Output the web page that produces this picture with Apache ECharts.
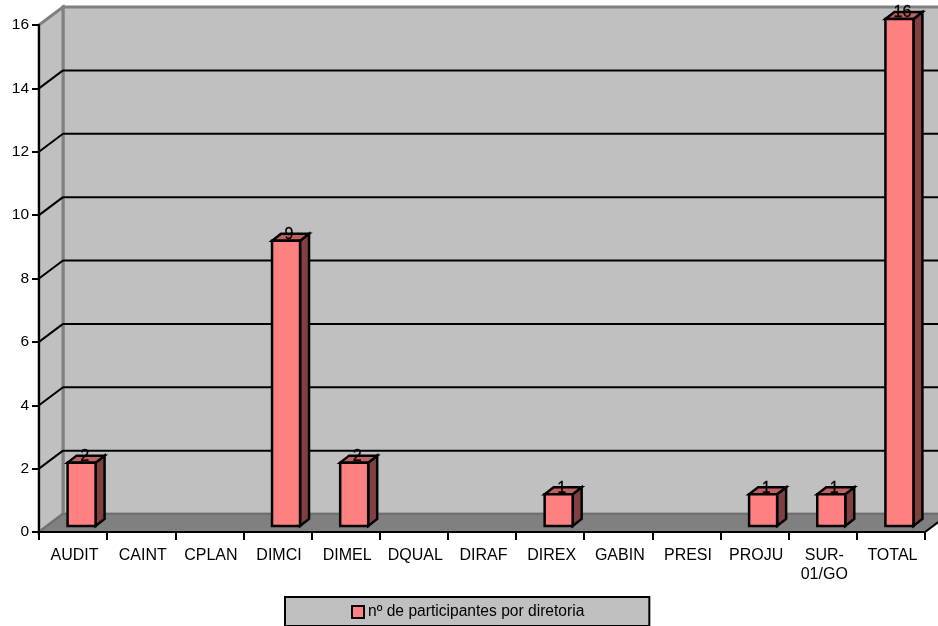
<!DOCTYPE html>
<html>
<head>
<meta charset="utf-8">
<style>html,body{margin:0;padding:0;background:#fff}#chart{width:938px;height:626px}</style>
<script src="https://cdn.jsdelivr.net/npm/echarts@6/dist/echarts.min.js"></script>
</head>
<body>
<div id="chart"></div>
<script>
// Participants per directorate
const categories = ['AUDIT','CAINT','CPLAN','DIMCI','DIMEL','DQUAL','DIRAF','DIREX','GABIN','PRESI','PROJU','SUR-\n01/GO','TOTAL'];
const participants = [2,null,null,9,2,null,null,1,null,null,1,1,16];
const gridValues = [2,4,6,8,10,12,14];
const seriesName = 'nº de participantes por diretoria';

// Oblique projection of the chart box and of each bar
const WALL_DX = 24, WALL_DY = 18;
const BAR_DX = 8.5, BAR_DY = 6, BAR_W = 28, SIDE_DX = 9, SIDE_DY = 7;
const FONT = '"Liberation Sans", Arial, sans-serif';

const poly = (points, fill, stroke, width) => ({
  type: 'polygon',
  shape: { points },
  style: { fill, stroke, lineWidth: width, lineJoin: 'miter' }
});
const line = (x1, y1, x2, y2, stroke, width) => ({
  type: 'line',
  shape: { x1, y1, x2, y2 },
  style: { stroke, lineWidth: width, fill: null }
});

function renderBox(params, api) {
  const c = params.coordSys;
  const l = c.x, r = c.x + c.width, t = c.y, b = c.y + c.height;
  const dx = WALL_DX, dy = WALL_DY;
  return {
    type: 'group',
    children: [
      poly([[l + dx, t - dy], [r + dx, t - dy], [r + dx, b - dy], [l + dx, b - dy]], '#c0c0c0', '#808080', 3),
      poly([[l, t], [l + dx, t - dy], [l + dx, b - dy], [l, b]], '#c0c0c0', '#808080', 3),
      poly([[l, b], [l + dx, b - dy], [r + dx, b - dy], [r, b]], '#808080', '#707070', 2),
      line(r, b, r + dx, b - dy, '#000', 2)
    ]
  };
}

function renderGridLine(params, api) {
  const c = params.coordSys;
  const y = api.coord([0, api.value(0)])[1];
  const l = c.x, r = c.x + c.width;
  return {
    type: 'group',
    children: [
      line(l, y, l + WALL_DX, y - WALL_DY, '#000', 2),
      line(l + WALL_DX, y - WALL_DY, r + WALL_DX, y - WALL_DY, '#000', 2)
    ]
  };
}

function renderBar(params, api) {
  const v = api.value(1);
  if (v == null || isNaN(v)) return null;
  const top = api.coord([api.value(0), v]);
  const base = api.coord([api.value(0), 0]);
  const x0 = top[0] + BAR_DX - BAR_W / 2, x1 = x0 + BAR_W;
  const y0 = top[1] - BAR_DY, y1 = base[1] - BAR_DY;
  const sx = SIDE_DX, sy = SIDE_DY;
  return {
    type: 'group',
    children: [
      poly([[x1, y0], [x1 + sx, y0 - sy], [x1 + sx, y1 - sy], [x1, y1]], '#804040', '#000', 2.5),
      poly([[x0, y0], [x0 + sx, y0 - sy], [x1 + sx, y0 - sy], [x1, y0]], '#c06060', '#000', 2.5),
      poly([[x0, y0], [x1, y0], [x1, y1], [x0, y1]], '#ff8080', '#000', 2.5),
      {
        type: 'text',
        z2: 10,
        style: {
          x: top[0] + BAR_DX + 3, y: y0 - sy + 1,
          text: String(v), fill: '#000', stroke: '#000', lineWidth: 0.3,
          font: '16px ' + FONT, align: 'center', verticalAlign: 'middle'
        }
      }
    ]
  };
}

const chart = echarts.init(document.getElementById('chart'), null, { renderer: 'canvas' });
chart.setOption({
  animation: false,
  backgroundColor: '#fff',
  textStyle: { fontFamily: FONT },
  grid: { left: 39, right: 13, top: 25, bottom: 94, containLabel: false },
  xAxis: {
    type: 'category',
    data: categories,
    z: 6,
    axisLine: { lineStyle: { color: '#000', width: 2 } },
    axisTick: { show: true, length: 8, alignWithLabel: false, lineStyle: { color: '#000', width: 2 } },
    axisLabel: { color: '#000', fontSize: 16, margin: 14, lineHeight: 19, interval: 0, fontFamily: FONT, padding: [0, 0, 0, 3] },
    splitLine: { show: false }
  },
  yAxis: {
    type: 'value',
    min: 0, max: 16, interval: 2,
    z: 6,
    axisLine: { show: true, lineStyle: { color: '#000', width: 2 } },
    axisTick: { show: true, length: 7, lineStyle: { color: '#000', width: 2 } },
    axisLabel: { color: '#000', fontSize: 15.5, margin: 10, fontFamily: FONT, padding: [2, 0, 0, 0] },
    splitLine: { show: false }
  },
  legend: {
    show: true,
    left: 285, top: 597,
    padding: [7, 65, 6, 66],
    backgroundColor: '#c0c0c0',
    borderColor: '#000',
    borderWidth: 2,
    borderRadius: 0,
    itemWidth: 12, itemHeight: 12, itemGap: 0,
    icon: 'rect',
    data: [seriesName],
    selectedMode: false,
    itemStyle: { color: '#ff8080', borderColor: '#000', borderWidth: 2 },
    textStyle: { color: '#000', fontSize: 15.6, fontFamily: FONT, padding: [0, 0, 0, -1] }
  },
  series: [
    { type: 'custom', name: 'box', silent: true, z: 1, clip: false, renderItem: renderBox, data: [[0, 0]], encode: { x: 0, y: 1 } },
    { type: 'custom', name: 'grid', silent: true, z: 2, clip: false, renderItem: renderGridLine,
      data: gridValues.map(v => [v]), encode: { y: 0 } },
    { type: 'custom', name: seriesName, z: 3, clip: false, renderItem: renderBar,
      itemStyle: { color: '#ff8080' },
      data: participants.map((v, i) => [i, v]), encode: { x: 0, y: 1 } }
  ]
});
</script>
</body>
</html>
